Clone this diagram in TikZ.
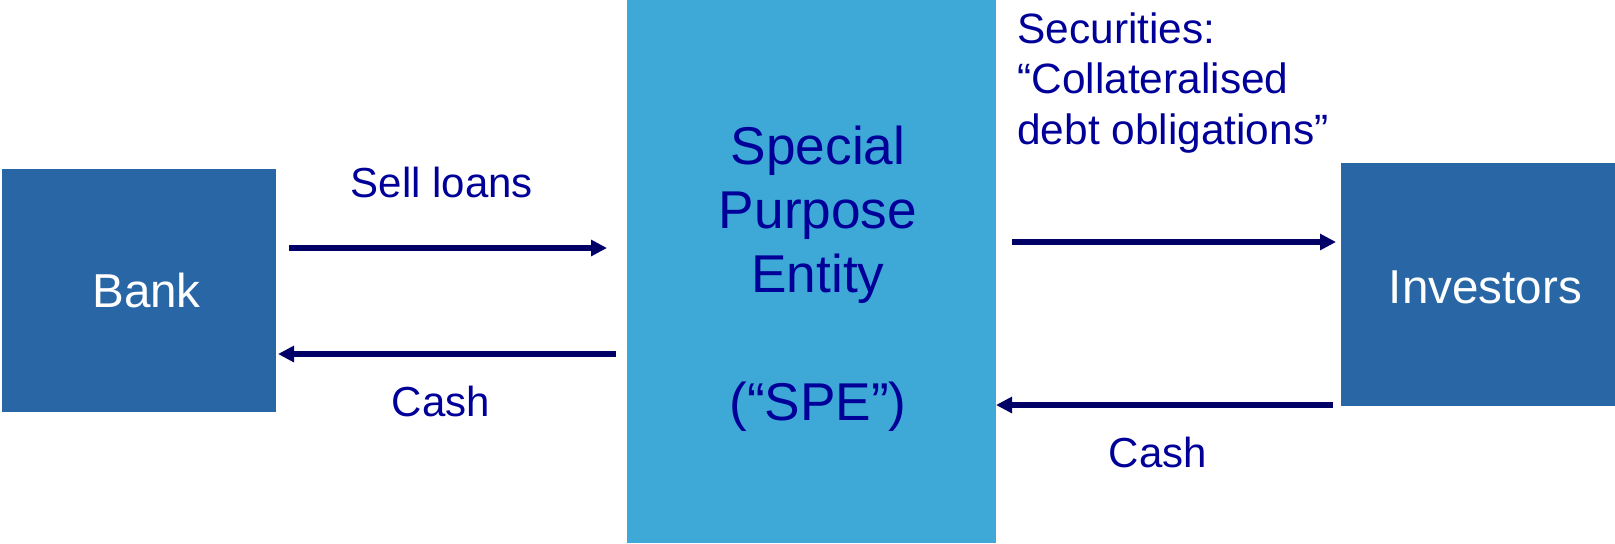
\documentclass[tikz,border=0pt]{standalone}
\usepackage{fontspec}
\setmainfont{Liberation Sans}
\usetikzlibrary{arrows.meta}
\definecolor{bankblue}{RGB}{40,102,165}
\definecolor{speblue}{RGB}{62,168,214}
\definecolor{txtblue}{RGB}{0,0,153}
\definecolor{arrblue}{RGB}{0,0,102}
\tikzset{
  darkbox/.style={draw=none, fill=bankblue, inner sep=0pt, outer sep=0pt},
  lightbox/.style={draw=none, fill=speblue, inner sep=0pt, outer sep=0pt},
  whitelbl/.style={text=white, inner sep=0pt, anchor=base, font=\fontsize{23.8pt}{28pt}\selectfont},
  bluelbl/.style={text=txtblue, inner sep=0pt, anchor=base, font=\fontsize{21pt}{25pt}\selectfont},
  spelbl/.style={text=txtblue, inner sep=0pt, anchor=base, font=\fontsize{26.6pt}{31pt}\selectfont},
  flow/.style={draw=arrblue, line width=2.7pt, -{Triangle[length=8pt,width=7.8pt]}},
}
\begin{document}
\begin{tikzpicture}[x=0.5pt,y=-0.5pt]
\useasboundingbox (0,0) rectangle (1615,543);
% boxes
\node[darkbox, minimum width=137pt, minimum height=121.5pt] (bank) at (139,290.5) {};
\node[lightbox, minimum width=184.5pt, minimum height=271.5pt] (spe) at (811.5,271.5) {};
\node[darkbox, minimum width=137pt, minimum height=121.5pt] (inv) at (1478,284.5) {};
% box texts
\node[whitelbl] (banktxt) at (146.5,307) {Bank};
\node[whitelbl] (invtxt) at (1485.5,303) {Investors};
\node[spelbl] (spe1) at (818,164) {Special};
\node[spelbl] (spe2) at (818,228) {Purpose};
\node[spelbl] (spe3) at (818,292) {Entity};
\node[spelbl] (spe4) at (818,420) {(“SPE”)};
% labels
\node[bluelbl] (sell) at (442,197) {Sell loans};
\node[bluelbl] (cash1) at (441,416) {Cash};
\node[bluelbl] (cash2) at (1158,467) {Cash};
\node[text=txtblue, inner sep=0pt, anchor=north west, align=left,
      font=\fontsize{21.2pt}{25.25pt}\selectfont] (sec) at (1017,12)
      {Securities:\\“Collateralised\\debt obligations”};
% connector end points
\coordinate (a1s) at (289,248);
\coordinate (a1e) at (607,248);
\coordinate (a2s) at (616,354);
\coordinate (a2e) at (278,354);
\coordinate (a3s) at (1012,242);
\coordinate (a3e) at (1336,242);
\coordinate (a4s) at (1333,405);
\coordinate (a4e) at (996,405);
\draw[flow] (a1s) -- (a1e);
\draw[flow] (a2s) -- (a2e);
\draw[flow] (a3s) -- (a3e);
\draw[flow] (a4s) -- (a4e);
\end{tikzpicture}
\end{document}
